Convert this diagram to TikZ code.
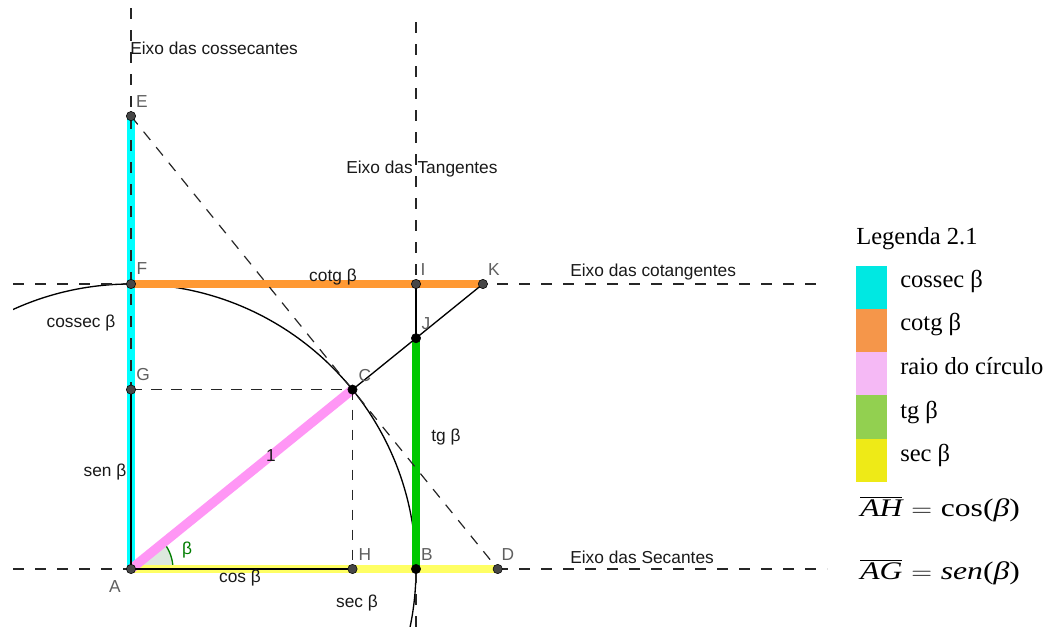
\documentclass[tikz,border=0pt]{standalone}
\usepackage{fontspec}
\setmainfont{Liberation Sans}
\newfontfamily\legfont{Liberation Serif}
\usetikzlibrary{calc}
\definecolor{cyanline}{RGB}{0,255,255}
\definecolor{orangeline}{RGB}{255,153,51}
\definecolor{pinkline}{RGB}{255,150,245}
\definecolor{greenline}{RGB}{0,200,0}
\definecolor{yellowline}{RGB}{255,255,100}
\definecolor{legcyan}{RGB}{0,232,226}
\definecolor{legorange}{RGB}{245,150,74}
\definecolor{legpink}{RGB}{245,185,245}
\definecolor{leggreen}{RGB}{146,208,80}
\definecolor{legyellow}{RGB}{238,234,23}
\definecolor{ptgray}{RGB}{70,70,70}
\definecolor{lblgray}{RGB}{95,95,95}
\definecolor{anggreen}{RGB}{0,125,0}
\definecolor{angfill}{RGB}{220,232,222}
\begin{document}
\begin{tikzpicture}[x=0.75pt,y=-0.75pt,
  axisline/.style={dash pattern=on 8pt off 8.5pt, line width=0.9pt, black!85},
  dshline/.style={dash pattern=on 8pt off 7pt, line width=0.9pt, black!85},
  segline/.style={line width=1pt, black},
  ptd/.style={circle, fill=ptgray, draw=black, line width=0.4pt, inner sep=0pt, minimum size=7pt},
  ptb/.style={ptd, fill=black},
  lbl/.style={text=lblgray, font=\fontsize{13}{15}\selectfont, inner sep=0pt},
  txt/.style={text=black!90, font=\fontsize{13}{15}\selectfont, inner sep=0pt},
  leg/.style={font=\legfont\fontsize{18.4}{20}\selectfont, anchor=base west, inner sep=0pt},
  formula/.style={font=\legfont\fontsize{19}{22}\selectfont, anchor=base west, inner sep=0pt},
]
\useasboundingbox (0,0) rectangle (1050,627);
% points
\coordinate (A) at (131,569);
\coordinate (B) at (416,569);
\coordinate (C) at (352.5,389.6);
\coordinate (D) at (497.7,569);
\coordinate (E) at (131,116.1);
\coordinate (F) at (131,284);
\coordinate (G) at (131,389.6);
\coordinate (H) at (352.5,569);
\coordinate (I) at (416,284);
\coordinate (J) at (416,338.2);
\coordinate (K) at (482.9,284);
% axis ends
\coordinate (cscTop) at (131,7);
\coordinate (tgTop) at (416,13);
\coordinate (tgBot) at (416,627);
\coordinate (ctgL) at (13,284);
\coordinate (ctgR) at (822,284);
\coordinate (secL) at (13,569);
\coordinate (secR) at (827,569);

% circle
\begin{scope}
  \clip (13,0) rectangle (830,627);
  \draw[segline] (A) circle[radius=213.75pt];
\end{scope}

% angle
\fill[angfill] (A) -- ++(31.5pt,0) arc[start angle=0,end angle=39,radius=31.5pt] -- cycle;
\draw[anggreen, line width=1pt] (A) ++(31.5pt,0) arc[start angle=0,end angle=39,radius=31.5pt];

% cossec (cyan) under axis
\draw[cyanline, line width=5.5pt] (A) -- (E);
% axes
\draw[axisline] (A) -- (cscTop);
\draw[axisline] (tgBot) -- (tgTop);
\draw[axisline] (ctgL) -- (ctgR);
\draw[axisline] (secL) -- (secR);

% coloured segments
\draw[orangeline, line width=6pt] (F) -- (K);
\draw[yellowline, line width=6pt] (A) -- (D);
\draw[greenline, line width=6pt] (B) -- (J);
\draw[pinkline, line width=7pt] (A) -- (C);

% thin segments
\draw[segline] (A) -- (G);
\draw[segline] (A) -- (H);
\draw[segline] (I) -- (J);
\draw[segline] (C) -- (K);

% dashed
\draw[dshline] (E) -- (D);
\draw[dshline] (G) -- (C);
\draw[dshline] (C) -- (H);

% point markers
\foreach \p in {A,D,E,F,G,H,I,K}
  \node[ptd] (m\p) at (\p) {};
\foreach \p in {B,C,J}
  \node[ptb] (m\p) at (\p) {};

% point labels
\node[lbl] (lA) at (115,587) {A};
\node[lbl] (lB) at (427,555) {B};
\node[lbl] (lC) at (365,376) {C};
\node[lbl] (lD) at (508,555) {D};
\node[lbl] (lE) at (142,102) {E};
\node[lbl] (lF) at (142,269) {F};
\node[lbl] (lG) at (143,375) {G};
\node[lbl] (lH) at (365,555) {H};
\node[lbl] (lI) at (423,270) {I};
\node[lbl] (lJ) at (426,324) {J};
\node[lbl] (lK) at (494,270) {K};

% axis names
\node[txt, anchor=west] (ncsc) at (130,48) {Eixo das cossecantes};
\node[txt, anchor=west] (ntg) at (346,169) {Eixo das Tangentes};
\node[txt, anchor=west] (nctg) at (570,272) {Eixo das cotangentes};
\node[txt, anchor=west] (nsec) at (570,557) {Eixo das Secantes};

% segment labels
\node[txt] (tcotg) at (333,277) {cotg β};
\node[txt] (tcsc) at (81,323) {cossec β};
\node[txt] (tsen) at (105,472) {sen β};
\node[txt] (tone) at (271,456) {1};
\node[txt] (ttg) at (446,437) {tg β};
\node[txt] (tcos) at (240,578) {cos β};
\node[txt] (tsec) at (357,603) {sec β};
\node[txt, text=anggreen] (tbeta) at (187,550) {β};

% legend
\node[leg] (legt) at (856,245) {Legenda 2.1};
\fill[legcyan]   (856,266) rectangle (887,309);
\fill[legorange] (856,309) rectangle (887,352);
\fill[legpink]   (856,352) rectangle (887,395);
\fill[leggreen]  (856,395) rectangle (887,439);
\fill[legyellow] (856,439) rectangle (887,482);
\node[leg] (l1) at (900,288) {cossec β};
\node[leg] (l2) at (900,331) {cotg β};
\node[leg] (l3) at (900,374) {raio do círculo};
\node[leg] (l4) at (900,418) {tg β};
\node[leg] (l5) at (900,461) {sec β};

% formulas
\node[formula] (fAH) at (860,516)
  {\scalebox{1.25}[1]{$\overline{\mbox{\itshape AH}}$\;${=}$\;cos(\textit{β})}};
\node[formula] (fAG) at (860,579)
  {\scalebox{1.25}[1]{$\overline{\mbox{\itshape AG}}$\;${=}$\;\textit{sen}(\textit{β})}};
\end{tikzpicture}
\end{document}
